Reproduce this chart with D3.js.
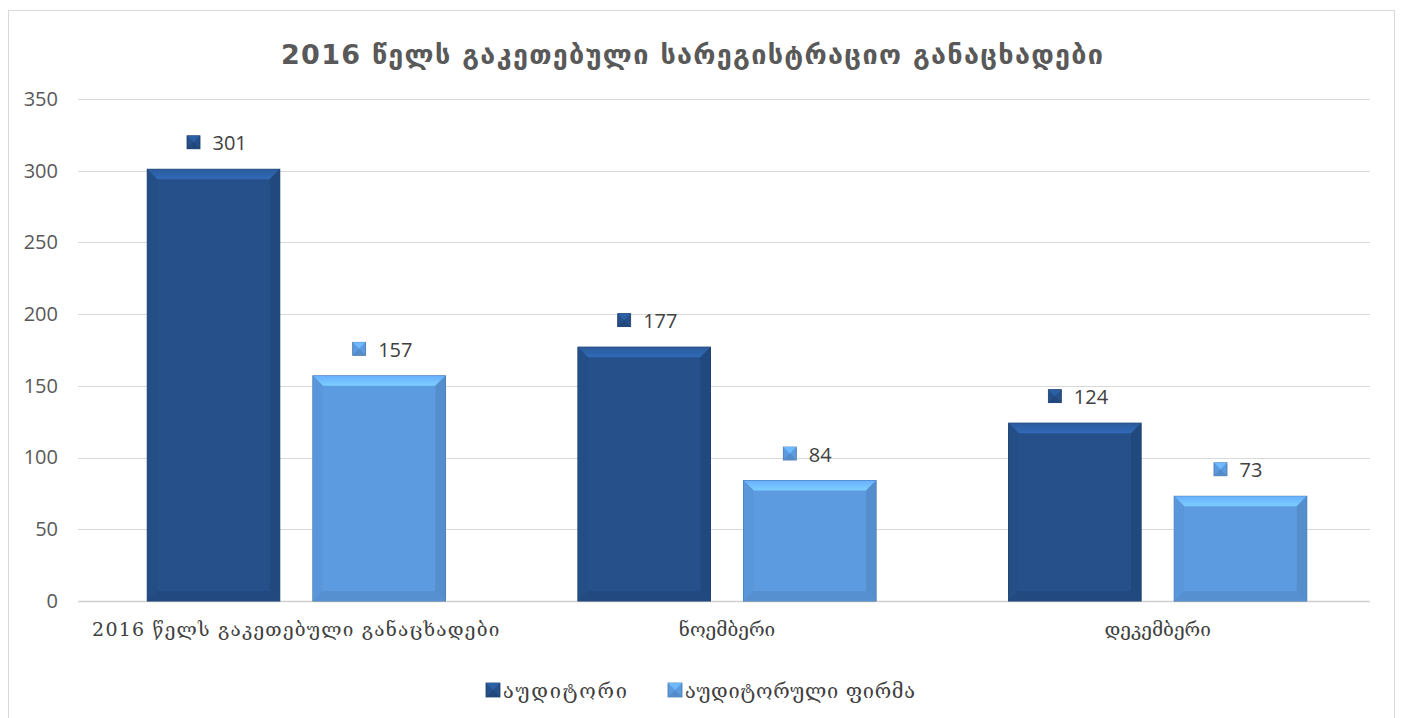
<!DOCTYPE html>
<html>
<head>
<meta charset="utf-8">
<script src="https://cdn.jsdelivr.net/npm/d3@7"></script>
<style>
    body { margin: 0; background: #fff; }
    svg { display: block; }
</style>
</head>
<body>
<svg id="chart" width="1402" height="718"></svg>
<script>
// Registration applications, 2016
const categories = ['2016 წელს გაკეთებული განაცხადები', 'ნოემბერი', 'დეკემბერი'];
const seriesNames = ['აუდიტორი', 'აუდიტორული ფირმა'];
const auditorValues = [301, 177, 124];
const firmValues = [157, 84, 73];
const yTicks = [0, 50, 100, 150, 200, 250, 300, 350];

const seriesColors = ['#25508a', '#5d9be0'];

const width = 1402;
const height = 718;
const margin = { top: 99, right: 32, bottom: 116, left: 78 };

const svg = d3.select('#chart');

// outer chart border
svg.append('rect')
    .attr('x', 8.5).attr('y', 10.5)
    .attr('width', 1386).attr('height', 720)
    .attr('fill', '#fff')
    .attr('stroke', '#d9d9d9');

svg.append('text')
    .attr('x', 281)
    .attr('y', 64)
    .attr('textLength', 822)
    .attr('lengthAdjust', 'spacing')
    .attr('font-family', 'DejaVu Sans')
    .attr('font-weight', 'bold')
    .attr('font-size', 27)
    .attr('fill', '#595959')
    .text('2016 წელს გაკეთებული სარეგისტრაციო განაცხადები');

const x = d3.scaleBand()
    .domain(categories)
    .range([margin.left + 3, width - margin.right + 3]);

const xInner = d3.scaleBand()
    .domain(seriesNames)
    .range([0, x.bandwidth()])
    .paddingInner(0.2)
    .paddingOuter(0.4);

const y = d3.scaleLinear()
    .domain([0, 350])
    .range([height - margin.bottom - 1, margin.top]);

// gridlines
svg.append('g')
    .selectAll('line')
    .data(yTicks)
    .join('line')
    .attr('x1', margin.left)
    .attr('x2', width - margin.right)
    .attr('y1', (d) => Math.round(y(d)) + 0.5)
    .attr('y2', (d) => Math.round(y(d)) + 0.5)
    .attr('stroke', (d) => (d === 0 ? '#d0d0d0' : '#d9d9d9'))
    .attr('stroke-width', (d) => (d === 0 ? 1.5 : 1));

const yAxis = svg.append('g')
    .attr('transform', `translate(${margin.left},0)`)
    .call(d3.axisLeft(y).tickValues(yTicks).tickSize(0).tickPadding(20));
yAxis.select('.domain').remove();
yAxis.selectAll('text')
    .attr('font-family', 'Open Sans')
    .attr('font-size', 20)
    .attr('fill', '#595959');

const xAxis = svg.append('g')
    .attr('transform', `translate(0,${y(0)})`)
    .call(d3.axisBottom(x).tickSize(0).tickPadding(22));
xAxis.select('.domain').remove();
xAxis.selectAll('text')
    .attr('font-family', 'DejaVu Serif')
    .attr('font-size', 19)
    .attr('letter-spacing', (d, i) => (i === 0 ? 1.2 : 0))
    .attr('fill', '#404040');

const rows = categories.map((cat, i) => ({
    cat,
    values: [auditorValues[i], firmValues[i]]
}));

const defs = svg.append('defs');
seriesColors.forEach((c, i) => {
    const base = d3.color(c);
    const grad = defs.append('linearGradient')
        .attr('id', `top-${i}`)
        .attr('x1', 0).attr('y1', 0).attr('x2', 0).attr('y2', 1);
    grad.append('stop').attr('offset', 0).attr('stop-color', base.brighter(0.35));
    grad.append('stop').attr('offset', 1).attr('stop-color', base.brighter(0.8));
});

const bevel = 10;

function drawBar(g, bx, by, bw, bh, color, si) {
    const base = d3.color(color);
    const b = Math.min(bevel, bh / 2);
    g.append('rect')
        .attr('x', bx).attr('y', by)
        .attr('width', bw).attr('height', bh)
        .attr('fill', color)
        .attr('stroke', base.darker(0.9))
        .attr('stroke-width', 1);
    // top bevel
    g.append('polygon')
        .attr('points', [[bx, by], [bx + bw, by], [bx + bw - b, by + b], [bx + b, by + b]].join(' '))
        .attr('fill', `url(#top-${si})`);
    // left bevel
    g.append('polygon')
        .attr('points', [[bx, by], [bx + b, by + b], [bx + b, by + bh - b], [bx, by + bh]].join(' '))
        .attr('fill', base.darker(0.08));
    // right bevel
    g.append('polygon')
        .attr('points', [[bx + bw, by], [bx + bw, by + bh], [bx + bw - b, by + bh - b], [bx + bw - b, by + b]].join(' '))
        .attr('fill', base.darker(0.25));
    // bottom bevel
    g.append('polygon')
        .attr('points', [[bx, by + bh], [bx + bw, by + bh], [bx + bw - b, by + bh - b], [bx + b, by + bh - b]].join(' '))
        .attr('fill', base.darker(0.2));
}

function drawMarker(g, mx, my, size, color) {
    const base = d3.color(color);
    const h = size / 2;
    g.append('rect')
        .attr('x', mx - h).attr('y', my - h)
        .attr('width', size).attr('height', size)
        .attr('fill', color)
        .attr('stroke', base.darker(0.8))
        .attr('stroke-width', 0.8);
    g.append('polygon')
        .attr('points', [[mx - h, my - h], [mx + h, my - h], [mx, my]].join(' '))
        .attr('fill', base.brighter(0.5));
    g.append('polygon')
        .attr('points', [[mx - h, my + h], [mx + h, my + h], [mx, my]].join(' '))
        .attr('fill', base.darker(0.3));
}

const groups = svg.append('g')
    .selectAll('g')
    .data(rows)
    .join('g')
    .attr('transform', (d) => `translate(${x(d.cat)},0)`);

groups.each(function (row) {
    const g = d3.select(this);
    row.values.forEach((v, si) => {
        const bx = xInner(seriesNames[si]);
        const bw = xInner.bandwidth();
        const top = y(v);
        drawBar(g, bx, top, bw, y(0) - top, seriesColors[si], si);

        const cx = bx + bw / 2;
        const labelY = top - 26;
        drawMarker(g, cx - 20, labelY - 1, 13, seriesColors[si]);
        g.append('text')
            .attr('x', cx - 1)
            .attr('y', labelY)
            .attr('dy', '0.35em')
            .attr('font-family', 'Open Sans')
            .attr('font-size', 20)
            .attr('fill', '#404040')
            .text(v);
    });
});

// legend
const legend = svg.append('g');
const legendX = [493, 675];
const legendTextWidth = [124, 230];
seriesNames.forEach((name, i) => {
    drawMarker(legend, legendX[i], 690, 14, seriesColors[i]);
    legend.append('text')
        .attr('x', legendX[i] + 10)
        .attr('y', 691)
        .attr('dy', '0.35em')
        .attr('textLength', legendTextWidth[i])
        .attr('lengthAdjust', 'spacing')
        .attr('font-family', 'DejaVu Serif')
        .attr('font-size', 20)
        .attr('fill', '#404040')
        .text(name);
});
</script>
</body>
</html>
